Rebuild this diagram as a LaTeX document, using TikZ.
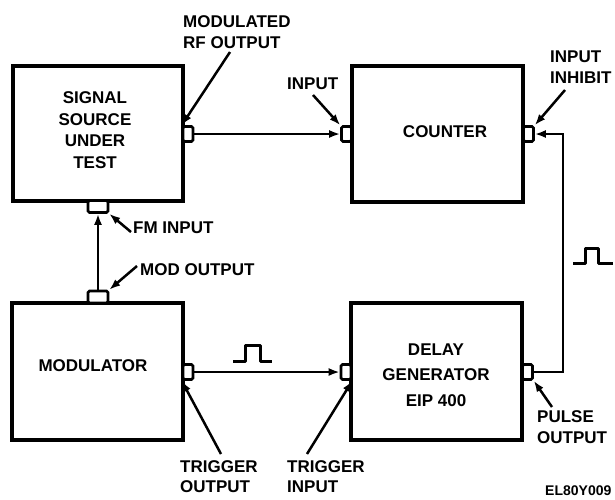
\documentclass[tikz,border=0pt]{standalone}
\usepackage{fontspec}
\setmainfont{Liberation Sans}
\usetikzlibrary{arrows.meta}
\begin{document}
\begin{tikzpicture}[x=1pt,y=-1pt,
  box/.style={draw,line width=3.4pt,inner sep=0pt},
  sport/.style={draw,fill=white,line width=2.6pt,rounded corners=1.5pt,inner sep=0pt,minimum width=10pt,minimum height=15pt},
  tport/.style={draw,fill=white,line width=2.6pt,rounded corners=1.5pt,inner sep=0pt,minimum width=20pt,minimum height=12pt},
  txt/.style={font=\fontsize{17}{21.5}\selectfont\bfseries,align=center,inner sep=0pt},
  ltxt/.style={font=\fontsize{17}{21}\selectfont\bfseries,align=left,inner sep=0pt,anchor=west},
  wire/.style={line width=2.5pt},
  arr/.style={-{Latex[length=11pt,width=8pt]}},
  lead/.style={line width=2.5pt,-{Latex[length=11pt,width=8pt]}},
  pulse/.style={line width=3pt,line join=round}]
\useasboundingbox (0,0) rectangle (615,499);

% boxes
\node[box,minimum width=170pt,minimum height=135pt] (ss) at (98,133.5) {};
\node[box,minimum width=171pt,minimum height=136pt] (cnt) at (437.5,134) {};
\node[box,minimum width=171pt,minimum height=137pt] (mod) at (97.5,371.5) {};
\node[box,minimum width=171pt,minimum height=137pt] (dly) at (436.5,371.5) {};

% box texts
\node[txt] (sst) at (95,130) {SIGNAL\\SOURCE\\UNDER\\TEST};
\node[txt] (cntt) at (445,132) {COUNTER};
\node[txt] (modt) at (93,366) {MODULATOR};
\node[txt,font=\fontsize{17}{25.5}\selectfont\bfseries] (dlyt) at (436,375) {DELAY\\GENERATOR\\EIP 400};

% ports
\node[sport] (rf) at (188,134) {};
\node[sport] (in) at (346.5,134) {};
\node[sport] (ih) at (528.5,134) {};
\node[tport] (fm) at (98,206.5) {};
\node[tport] (mo) at (98,297) {};
\node[sport] (to) at (188,372) {};
\node[sport] (ti) at (346,372) {};
\node[sport] (po) at (527.5,372) {};
\coordinate (bend1) at (563,134);
\coordinate (bend2) at (563,372);

% connectors
\draw[wire,arr] (rf.east) -- (in.west);
\draw[wire,arr] (to.east) -- (ti.west);
\draw[wire,arr] (mo.north) -- (fm.south);
\draw[wire,arr] (po.east) -- (bend2) -- (bend1) -- (ih.east);

% pulses
\draw[pulse] (233,361) -- (245,361) -- (245,345) -- (260,345) -- (260,361) -- (272,361);
\draw[pulse] (573,263) -- (585,263) -- (585,248) -- (598,248) -- (598,263) -- (613,263);

% labels
\node[ltxt] (lrf) at (183,32.5) {MODULATED\\RF OUTPUT};
\node[ltxt] (lin) at (287,83.5) {INPUT};
\node[ltxt] (lih) at (550,67.5) {INPUT\\INHIBIT};
\node[ltxt] (lfm) at (133,228) {FM INPUT};
\node[ltxt] (lmo) at (140,270) {MOD OUTPUT};
\node[ltxt,font=\fontsize{17}{20}\selectfont\bfseries] (lto) at (180,477) {TRIGGER\\OUTPUT};
\node[ltxt,font=\fontsize{17}{20}\selectfont\bfseries] (lti) at (287,477) {TRIGGER\\INPUT};
\node[ltxt] (lpo) at (537,427.5) {PULSE\\OUTPUT};
\node[ltxt,font=\fontsize{14}{16}\selectfont\bfseries] (code) at (545,491) {EL80Y009};

% leaders
\coordinate (srf) at (230,52);
\coordinate (sin) at (313,95);
\coordinate (sih) at (565,90);
\coordinate (sfm) at (131,232);
\coordinate (smo) at (137,266);
\coordinate (sto) at (221,454);
\coordinate (sti) at (307,454);
\coordinate (spo) at (552,407);
\draw[lead] (srf) -- (rf.north west);
\draw[lead] (sin) -- (in.north west);
\draw[lead] (sih) -- (ih.north east);
\draw[lead] (sfm) -- (fm.south east);
\draw[lead] (smo) -- (mo.north east);
\draw[lead] (sto) -- (to.south west);
\draw[lead] (sti) -- (ti.south east);
\draw[lead] (spo) -- (po.south east);
\end{tikzpicture}
\end{document}
